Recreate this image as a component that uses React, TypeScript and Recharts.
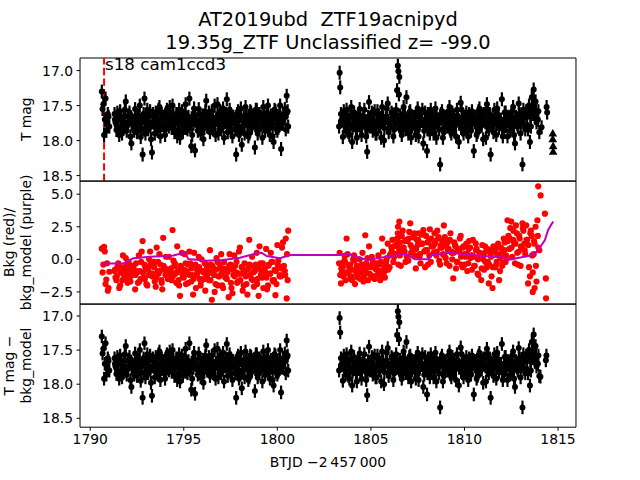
import { ScatterChart, Scatter, XAxis, YAxis, ErrorBar, ReferenceLine, ReferenceArea } from "recharts"

// ---- light curve, first orbit (BTJD - 2457000), cadence a ----
const t1a = [
  1790.62, 1790.70, 1790.78, 1790.86, 1790.94, 1791.02,
  1791.3, 1791.4, 1791.5, 1791.6, 1791.7, 1791.8, 1791.9, 1792.0, 1792.1, 1792.2,
  1792.3, 1792.4, 1792.5, 1792.6, 1792.7, 1792.8, 1792.9, 1793.0, 1793.1, 1793.2,
  1793.3, 1793.4, 1793.5, 1793.6, 1793.7, 1793.8, 1793.9, 1794.0, 1794.1, 1794.2,
  1794.3, 1794.4, 1794.5, 1794.6, 1794.7, 1794.8, 1794.9, 1795.0, 1795.1, 1795.2,
  1795.3, 1795.4, 1795.5, 1795.6, 1795.7, 1795.8, 1795.9, 1796.0, 1796.1, 1796.2,
  1796.3, 1796.4, 1796.5, 1796.6, 1796.7, 1796.8, 1796.9, 1797.0, 1797.1, 1797.2,
  1797.3, 1797.4, 1797.5, 1797.6, 1797.7, 1797.8, 1797.9, 1798.0, 1798.1, 1798.2,
  1798.3, 1798.4, 1798.5, 1798.6, 1798.7, 1798.8, 1798.9, 1799.0, 1799.1, 1799.2,
  1799.3, 1799.4, 1799.5, 1799.6, 1799.7, 1799.8, 1799.9, 1800.0, 1800.1, 1800.2,
  1800.3, 1800.4, 1800.5, 1800.58,
]
const mag1a = [
  17.30, 17.48, 17.70, 17.86, 17.62, 17.80,
  17.62, 17.85, 17.70, 17.58, 17.90, 17.66, 17.44, 17.78, 17.60, 18.04,
  17.72, 17.55, 17.88, 17.64, 17.95, 18.20, 17.40, 17.68, 17.84, 17.58,
  18.17, 17.74, 17.60, 17.86, 17.52, 17.78, 17.66, 17.92, 17.56, 17.80,
  17.70, 17.50, 17.88, 17.62, 17.76, 17.96, 17.58, 17.72, 17.48, 17.84,
  17.40, 18.08, 17.66, 18.14, 17.78, 17.55, 17.90, 17.64, 17.82, 17.43,
  17.70, 17.88, 17.58, 17.76, 17.92, 17.48, 17.66, 17.84, 17.54, 17.74,
  17.41, 17.80, 17.62, 17.94, 17.70, 18.20, 17.58, 17.86, 18.06, 17.66,
  17.52, 17.78, 17.90, 17.60, 17.74, 18.10, 17.56, 17.84, 17.68, 17.96,
  17.62, 17.80, 17.50, 17.92, 17.70, 18.02, 17.58, 17.86, 17.64, 18.12,
  17.72, 17.55, 17.36, 17.80,
]
const bkg1a = [
  0.82, -0.40, 0.60, -1.55, -2.40, -0.95,
  -0.9, -1.6, -0.3, -2.0, -0.7, -1.2, 0.1, -1.8, -0.5, -1.1,
  -0.6, -2.3, -1.0, 0.3, -1.5, 1.4, -0.4, -1.9, -0.8, 0.6,
  -1.3, -0.2, -2.1, -0.9, 0.4, -1.6, 1.65, -0.7, -1.2, 0.2,
  -1.0, 2.25, -0.5, -1.8, -0.8, -2.8, 0.5, -1.4, -0.3, -1.1,
  0.6, -1.7, -2.7, -0.6, -1.2, 0.2, -2.0, -0.9, -1.5, -0.4,
  -1.1, 0.7, -3.1, -0.7, -1.9, -0.2, -1.3, 0.4, -2.2, -0.8,
  -1.5, -2.9, -0.4, -2.6, 0.3, -1.0, -1.7, 0.9, -0.6, -2.0,
  -1.2, -2.7, 1.5, -0.5, -1.6, -0.9, 0.5, -2.8, -0.3, -1.4,
  -0.7, 0.8, -2.0, -1.1, -0.2, -1.7, -2.75, 1.1, -0.6, -1.3,
  1.3, -0.9, -3.0, 2.2,
]

// first orbit, cadence b
const t1b = [
  1790.66, 1790.74, 1790.82, 1790.90, 1790.98,
  1791.35, 1791.45, 1791.55, 1791.65, 1791.75, 1791.85, 1791.95, 1792.05, 1792.15, 1792.25,
  1792.35, 1792.45, 1792.55, 1792.65, 1792.75, 1792.85, 1792.95, 1793.05, 1793.15, 1793.25,
  1793.35, 1793.45, 1793.55, 1793.65, 1793.75, 1793.85, 1793.95, 1794.05, 1794.15, 1794.25,
  1794.35, 1794.45, 1794.55, 1794.65, 1794.75, 1794.85, 1794.95, 1795.05, 1795.15, 1795.25,
  1795.35, 1795.45, 1795.55, 1795.65, 1795.75, 1795.85, 1795.95, 1796.05, 1796.15, 1796.25,
  1796.35, 1796.45, 1796.55, 1796.65, 1796.75, 1796.85, 1796.95, 1797.05, 1797.15, 1797.25,
  1797.35, 1797.45, 1797.55, 1797.65, 1797.75, 1797.85, 1797.95, 1798.05, 1798.15, 1798.25,
  1798.35, 1798.45, 1798.55, 1798.65, 1798.75, 1798.85, 1798.95, 1799.05, 1799.15, 1799.25,
  1799.35, 1799.45, 1799.55, 1799.65, 1799.75, 1799.85, 1799.95, 1800.05, 1800.15, 1800.25,
  1800.35, 1800.45, 1800.55,
]
const mag1b = [
  17.55, 17.92, 17.40, 17.75, 17.66,
  17.74, 17.60, 17.92, 17.68, 17.80, 17.56, 17.86, 17.64, 17.94, 17.70,
  17.86, 17.66, 17.78, 17.50, 17.82, 17.62, 17.90, 17.56, 17.74, 17.98,
  17.62, 17.90, 17.70, 17.56, 17.94, 17.66, 17.84, 17.60, 17.76, 17.52,
  17.82, 17.64, 17.72, 17.94, 17.56, 17.70, 17.88, 17.60, 17.78, 17.66,
  17.76, 17.92, 17.54, 17.70, 17.86, 17.62, 17.74, 17.98, 17.58, 17.80,
  17.60, 17.74, 17.84, 17.50, 17.68, 17.90, 17.58, 17.72, 17.96, 17.62,
  17.88, 17.56, 17.76, 17.66, 17.84, 17.62, 17.92, 17.54, 17.72, 17.90,
  17.64, 17.94, 17.58, 17.80, 17.68, 17.56, 17.90, 17.62, 17.76, 17.52,
  17.86, 17.60, 17.74, 17.64, 17.94, 17.56, 17.70, 17.82, 17.50, 17.76,
  17.62, 17.84, 17.58,
]
const bkg1b = [
  -1.0, 0.95, -1.9, -0.3, -2.2,
  -1.4, -0.6, -2.2, -1.0, 0.3, -1.5, -0.8, -0.2, -1.7, -0.5,
  -1.2, -0.3, -1.8, -0.9, 0.6, -1.4, -0.6, -2.0, 0.0, -1.1,
  -0.5, -1.7, 0.9, -1.1, -0.4, -2.3, -0.8, 0.2, -1.5, -0.9,
  -1.6, -0.1, -1.1, 1.0, -2.0, -0.6, -1.3, 0.4, -0.9, -1.8,
  -0.3, -1.2, 0.5, -2.2, -0.8, -1.5, 0.0, -1.0, -2.4, -0.6,
  -1.6, -0.4, -1.0, -2.5, 0.1, -1.3, -0.7, -2.0, -0.2, -1.4,
  -0.9, 0.4, -2.2, -1.2, -0.5, -1.8, 0.6, -1.1, -2.4, -0.3,
  -1.9, -0.7, -1.2, 0.2, -2.1, -0.4, -1.5, 1.0, -0.9, -2.2,
  -1.0, -2.3, -0.4, 0.5, -1.6, -0.8, -1.9, -0.1, -1.2, 0.9,
  -0.5, 1.6, -1.6,
]

// first orbit, cadence c
const t1c = [
  1791.32, 1791.42, 1791.52, 1791.62, 1791.72, 1791.82, 1791.92, 1792.02, 1792.12, 1792.22,
  1792.32, 1792.42, 1792.52, 1792.62, 1792.72, 1792.82, 1792.92, 1793.02, 1793.12, 1793.22,
  1793.32, 1793.42, 1793.52, 1793.62, 1793.72, 1793.82, 1793.92, 1794.02, 1794.12, 1794.22,
  1794.32, 1794.42, 1794.52, 1794.62, 1794.72, 1794.82, 1794.92, 1795.02, 1795.12, 1795.22,
  1795.32, 1795.42, 1795.52, 1795.62, 1795.72, 1795.82, 1795.92, 1796.02, 1796.12, 1796.22,
  1796.32, 1796.42, 1796.52, 1796.62, 1796.72, 1796.82, 1796.92, 1797.02, 1797.12, 1797.22,
  1797.32, 1797.42, 1797.52, 1797.62, 1797.72, 1797.82, 1797.92, 1798.02, 1798.12, 1798.22,
  1798.32, 1798.42, 1798.52, 1798.62, 1798.72, 1798.82, 1798.92, 1799.02, 1799.12, 1799.22,
  1799.32, 1799.42, 1799.52, 1799.62, 1799.72, 1799.82, 1799.92, 1800.02, 1800.12, 1800.22,
  1800.32, 1800.42, 1800.52,
]
const mag1c = [
  17.70, 17.78, 17.64, 17.82, 17.72, 17.66, 17.80, 17.74, 17.68, 17.76,
  17.82, 17.70, 17.64, 17.78, 17.74, 17.68, 17.84, 17.72, 17.66, 17.80,
  17.74, 17.66, 17.82, 17.70, 17.78, 17.62, 17.76, 17.84, 17.70, 17.68,
  17.66, 17.80, 17.74, 17.70, 17.84, 17.64, 17.78, 17.72, 17.82, 17.68,
  17.80, 17.68, 17.76, 17.64, 17.72, 17.84, 17.70, 17.78, 17.66, 17.74,
  17.72, 17.82, 17.66, 17.78, 17.70, 17.76, 17.62, 17.80, 17.74, 17.68,
  17.78, 17.70, 17.84, 17.66, 17.74, 17.80, 17.72, 17.64, 17.82, 17.70,
  17.68, 17.76, 17.72, 17.82, 17.64, 17.78, 17.70, 17.84, 17.66, 17.74,
  17.74, 17.66, 17.80, 17.70, 17.76, 17.62, 17.82, 17.72, 17.78, 17.68,
  17.70, 17.64, 17.60,
]
const bkg1c = [
  -0.8, -1.3, -0.4, -1.0, -1.6, -0.6, -1.1, -0.3, -1.4, -0.9,
  -0.5, -1.2, -0.9, -1.7, -0.2, -1.0, -1.5, -0.7, -1.2, -0.4,
  -1.1, -0.6, -1.4, -0.2, -0.9, -1.8, -0.5, -1.2, -0.8, -1.5,
  -0.7, -1.3, -0.3, -1.0, -1.6, -0.5, -1.1, -0.8, -1.9, -0.4,
  -1.2, -0.7, -1.5, -0.4, -1.0, -0.6, -1.7, -0.9, -0.3, -1.3,
  -0.9, -1.6, -0.5, -1.2, -0.8, -2.0, -0.4, -1.1, -0.7, -1.4,
  -1.0, -0.5, -1.8, -0.8, -1.3, -0.2, -1.1, -1.6, -0.6, -0.9,
  -1.3, -0.8, -0.4, -1.5, -1.0, -0.6, -1.9, -0.7, -1.2, -0.3,
  -0.8, -1.4, -0.5, -1.1, -0.2, -1.6, -0.9, -0.4, -1.3, -0.7,
  -0.6, -1.2, 0.4,
]

// ---- second orbit, cadence a ----
const t2a = [
  1803.3, 1803.33, 1803.36, 1803.4, 1803.5, 1803.6, 1803.7, 1803.8, 1803.9, 1804.0, 1804.1, 1804.2,
  1804.3, 1804.4, 1804.5, 1804.6, 1804.7, 1804.8, 1804.9, 1805.0, 1805.1, 1805.2,
  1805.3, 1805.4, 1805.5, 1805.6, 1805.7, 1805.8, 1805.9, 1806.0, 1806.1, 1806.2,
  1806.3, 1806.4, 1806.44, 1806.47, 1806.5, 1806.52, 1806.55, 1806.6, 1806.7, 1806.8, 1806.9, 1807.0, 1807.1, 1807.2,
  1807.3, 1807.4, 1807.5, 1807.6, 1807.7, 1807.8, 1807.9, 1808.0, 1808.1, 1808.2,
  1808.3, 1808.4, 1808.5, 1808.6, 1808.7, 1808.8, 1808.9, 1809.0, 1809.1, 1809.2,
  1809.3, 1809.4, 1809.5, 1809.6, 1809.7, 1809.8, 1809.9, 1810.0, 1810.1, 1810.2,
  1810.3, 1810.4, 1810.5, 1810.6, 1810.7, 1810.8, 1810.9, 1811.0, 1811.1, 1811.2,
  1811.3, 1811.4, 1811.5, 1811.6, 1811.7, 1811.8, 1811.9, 1812.0, 1812.1, 1812.2,
  1812.3, 1812.4, 1812.5, 1812.6, 1812.7, 1812.8, 1812.9, 1813.0, 1813.1, 1813.2,
  1813.3, 1813.4, 1813.5, 1813.6, 1813.65, 1813.7, 1813.75, 1813.8, 1813.9, 1814.0,
]
const mag2a = [
  17.80, 17.03, 17.24, 17.62, 17.95, 17.70, 17.56, 17.88, 17.66, 18.02, 17.60, 17.84,
  17.74, 17.55, 17.92, 17.68, 17.80, 18.16, 17.45, 17.70, 17.86, 17.58,
  17.90, 17.64, 17.76, 17.52, 18.00, 17.68, 17.47, 17.82, 17.60, 17.94,
  17.70, 17.28, 16.93, 17.01, 17.34, 17.09, 17.80, 17.86, 17.62, 17.74, 17.38, 17.90, 17.58, 17.80,
  17.66, 17.92, 17.54, 17.78, 17.70, 18.04, 17.60, 18.15, 17.84, 17.56,
  17.76, 17.62, 17.96, 17.70, 18.34, 17.58, 17.88, 17.66, 17.80, 17.52,
  17.90, 17.64, 17.74, 17.56, 18.02, 17.46, 17.84, 17.68, 17.60, 17.94,
  17.72, 17.58, 18.15, 17.66, 17.88, 17.54, 17.78, 17.98, 17.62, 17.48,
  17.84, 18.20, 17.70, 17.56, 17.92, 17.64, 17.76, 17.41, 17.86, 17.60,
  17.94, 17.68, 17.80, 17.52, 18.04, 17.72, 17.47, 17.90, 18.34, 17.62,
  17.58, 17.84, 18.02, 17.38, 17.56, 17.27, 17.62, 17.44, 17.70, 17.88,
]
const bkg2a = [
  -0.3, 0.5, -1.2, -1.85, -0.6, 0.2, 1.6, -1.1, -0.4, -1.6, 0.3, -0.9,
  -1.4, 0.0, -0.7, -1.7, 1.85, -0.5, 1.0, -1.2, -0.2, -1.5,
  -0.8, 0.3, -1.6, 1.6, -1.0, -0.3, 1.2, -0.6, 0.9, -0.2,
  0.4, 1.6, 2.0, -0.4, 0.8, 2.89, 1.3, -0.5, 2.2, 0.6, 1.5, -0.1, 2.76, 0.9,
  1.7, -0.7, 1.1, 0.2, 1.9, 2.25, -0.6, 0.7, 1.4, -0.2,
  1.0, 2.0, 0.3, 1.6, -0.4, 0.9, 2.6, 0.1, 1.3, -0.5,
  0.6, -1.46, 1.1, -0.2, 0.8, 1.8, -0.6, 0.4, 1.2, -0.3,
  0.9, -0.8, 0.2, 1.22, -1.1, 0.5, -1.59, 0.0, 1.0, -0.6,
  -1.85, 0.3, -2.2, 0.8, -0.4, 1.2, -0.9, 0.5, 1.6, -0.2,
  3.0, 0.8, 2.9, 1.5, -0.3, 2.0, 0.6, -0.5, 2.76, 1.2,
  2.6, -1.85, -1.3, 1.8, -2.5, 0.4, -2.2, 2.5, 3.0, 0.7,
]

// second orbit, cadence b
const t2b = [
  1803.45, 1803.55, 1803.65, 1803.75, 1803.85, 1803.95, 1804.05, 1804.15, 1804.25,
  1804.35, 1804.45, 1804.55, 1804.65, 1804.75, 1804.85, 1804.95, 1805.05, 1805.15, 1805.25,
  1805.35, 1805.45, 1805.55, 1805.65, 1805.75, 1805.85, 1805.95, 1806.05, 1806.15, 1806.25,
  1806.35, 1806.45, 1806.55, 1806.65, 1806.75, 1806.85, 1806.95, 1807.05, 1807.15, 1807.25,
  1807.35, 1807.45, 1807.55, 1807.65, 1807.75, 1807.85, 1807.95, 1808.05, 1808.15, 1808.25,
  1808.35, 1808.45, 1808.55, 1808.65, 1808.75, 1808.85, 1808.95, 1809.05, 1809.15, 1809.25,
  1809.35, 1809.45, 1809.55, 1809.65, 1809.75, 1809.85, 1809.95, 1810.05, 1810.15, 1810.25,
  1810.35, 1810.45, 1810.55, 1810.65, 1810.75, 1810.85, 1810.95, 1811.05, 1811.15, 1811.25,
  1811.35, 1811.45, 1811.55, 1811.65, 1811.75, 1811.85, 1811.95, 1812.05, 1812.15, 1812.25,
  1812.35, 1812.45, 1812.55, 1812.65, 1812.75, 1812.85, 1812.95, 1813.05, 1813.15, 1813.25,
  1813.35, 1813.45, 1813.55, 1813.65, 1813.75, 1813.85, 1813.95,
]
const mag2b = [
  17.70, 17.58, 17.86, 17.64, 17.92, 17.52, 17.78, 17.68, 17.96,
  17.62, 17.84, 17.70, 17.56, 17.94, 17.66, 17.80, 17.60, 17.74, 17.90,
  17.58, 17.80, 17.96, 17.66, 17.74, 17.54, 17.88, 17.70, 17.62, 17.84,
  17.56, 17.76, 17.64, 17.92, 17.52, 17.84, 17.70, 17.60, 17.96, 17.68,
  17.80, 17.60, 17.94, 17.68, 17.56, 17.86, 17.74, 17.62, 17.90, 17.70,
  17.90, 17.54, 17.72, 17.84, 17.62, 17.96, 17.68, 17.76, 17.58, 17.86,
  17.60, 17.82, 17.94, 17.66, 17.74, 17.56, 17.90, 17.70, 17.84, 17.62,
  17.86, 17.66, 17.74, 17.92, 17.58, 17.80, 17.64, 17.70, 17.96, 17.56,
  17.62, 17.76, 17.88, 17.66, 17.54, 17.82, 17.70, 17.94, 17.60, 17.78,
  17.70, 17.86, 17.58, 17.92, 17.66, 17.80, 17.62, 17.74, 17.56, 17.84,
  17.66, 17.50, 17.80, 17.62, 17.46, 17.74, 17.58,
]
const bkg2b = [
  -1.0, -0.2, -1.6, 0.4, -0.8, -1.3, 0.0, -1.9, -0.5,
  -0.9, -1.5, 0.5, -1.1, -0.3, -1.6, -0.6, 0.2, -1.3, -0.7,
  -1.2, -0.4, -0.9, 0.6, -1.4, 0.1, -0.7, 0.4, 1.5, 0.2,
  1.1, 2.5, 0.3, 1.8, 0.9, -0.2, 1.4, 2.1, 0.5, 1.7,
  0.3, 1.5, 2.0, -0.3, 1.2, 0.6, 1.8, -0.4, 2.3, 1.0,
  0.5, 1.4, 2.2, -0.1, 1.1, 0.4, 1.7, -0.3, 0.8, 2.0,
  0.0, 1.3, -0.7, 0.7, 1.6, -0.4, 1.0, 0.2, -0.9, 1.4,
  0.3, 1.5, -0.5, 0.8, -1.2, 0.4, 1.1, -0.8, 0.6, -0.2,
  0.7, -1.3, 1.0, -0.6, 0.4, -1.6, 0.9, -0.3, 1.3, 0.1,
  1.8, 2.4, 0.2, 1.3, 2.6, -0.4, 1.6, 0.9, 2.2, 0.4,
  1.5, -0.6, 2.2, -1.0, 1.2, -1.7, 0.9,
]

// second orbit, cadence c
const t2c = [
  1803.42, 1803.52, 1803.62, 1803.72, 1803.82, 1803.92, 1804.02, 1804.12, 1804.22, 1804.32,
  1804.42, 1804.52, 1804.62, 1804.72, 1804.82, 1804.92, 1805.02, 1805.12, 1805.22, 1805.32,
  1805.42, 1805.52, 1805.62, 1805.72, 1805.82, 1805.92, 1806.02, 1806.12, 1806.22, 1806.32,
  1806.42, 1806.52, 1806.62, 1806.72, 1806.82, 1806.92, 1807.02, 1807.12, 1807.22, 1807.32,
  1807.42, 1807.52, 1807.62, 1807.72, 1807.82, 1807.92, 1808.02, 1808.12, 1808.22, 1808.32,
  1808.42, 1808.52, 1808.62, 1808.72, 1808.82, 1808.92, 1809.02, 1809.12, 1809.22, 1809.32,
  1809.42, 1809.52, 1809.62, 1809.72, 1809.82, 1809.92, 1810.02, 1810.12, 1810.22, 1810.32,
  1810.42, 1810.52, 1810.62, 1810.72, 1810.82, 1810.92, 1811.02, 1811.12, 1811.22, 1811.32,
  1811.42, 1811.52, 1811.62, 1811.72, 1811.82, 1811.92, 1812.02, 1812.12, 1812.22, 1812.32,
  1812.42, 1812.52, 1812.62, 1812.72, 1812.82, 1812.92, 1813.02, 1813.12, 1813.22, 1813.32,
  1813.42, 1813.52, 1813.62, 1813.72, 1813.82, 1813.92,
]
const mag2c = [
  17.72, 17.66, 17.80, 17.70, 17.76, 17.64, 17.82, 17.74, 17.68, 17.78,
  17.70, 17.80, 17.66, 17.74, 17.84, 17.68, 17.76, 17.62, 17.78, 17.72,
  17.78, 17.68, 17.74, 17.82, 17.66, 17.72, 17.80, 17.70, 17.64, 17.76,
  17.66, 17.74, 17.70, 17.80, 17.64, 17.78, 17.72, 17.84, 17.68, 17.76,
  17.74, 17.82, 17.66, 17.72, 17.78, 17.70, 17.84, 17.64, 17.76, 17.70,
  17.80, 17.68, 17.76, 17.64, 17.72, 17.82, 17.70, 17.78, 17.66, 17.74,
  17.70, 17.78, 17.64, 17.76, 17.82, 17.68, 17.74, 17.80, 17.66, 17.72,
  17.76, 17.66, 17.72, 17.84, 17.70, 17.78, 17.62, 17.74, 17.80, 17.68,
  17.72, 17.80, 17.68, 17.76, 17.64, 17.74, 17.82, 17.70, 17.78, 17.66,
  17.74, 17.66, 17.80, 17.70, 17.76, 17.62, 17.72, 17.68, 17.78, 17.60,
  17.56, 17.66, 17.52, 17.62, 17.58, 17.70,
]
const bkg2c = [
  -0.7, -1.3, -0.2, -1.0, -0.5, -1.5, -0.8, -0.1, -1.2, -0.6,
  -1.0, -0.4, -1.3, -0.8, 0.1, -1.1, -0.5, -1.4, -0.7, -0.3,
  -0.9, -0.2, -1.2, -0.6, -0.1, -0.8, 0.3, 0.6, 1.0, 0.4,
  1.2, 0.5, 1.8, 0.9, 1.4, 0.2, 1.6, 1.1, 0.6, 2.0,
  0.8, 1.5, 0.4, 1.2, 1.9, 0.7, 1.3, 0.3, 1.6, 1.0,
  1.2, 0.6, 1.7, 0.9, 1.4, 0.3, 1.1, 0.7, 1.5, 0.5,
  0.5, 1.0, -0.2, 0.6, 0.2, 0.9, -0.4, 0.4, 0.8, 0.1,
  0.3, -0.5, 0.7, 0.0, 0.5, -0.7, 0.4, -0.2, 0.8, -0.4,
  0.2, -0.6, 0.6, -0.2, 0.9, 0.1, -0.5, 0.7, 0.3, 1.4,
  1.6, 0.9, 2.2, 1.2, 0.5, 1.8, 1.0, 2.4, 0.7, 1.5,
  1.1, 2.0, 0.3, 1.4, -0.5, 1.8,
]

// last few points after the main block
const tailT = [1814.12, 1814.39, 1814.42]
const tailMag = [17.81, 17.52, 17.60]
const tailCorrT = [1814.06, 1814.35, 1814.38]
const tailCorrMag = [17.89, 17.65, 17.58]
const limitT = [1814.72, 1814.72, 1814.74, 1814.74]
const limitMag = [17.90, 17.98, 18.08, 18.16]
const bkgTailT = [1813.94, 1814.07, 1814.3, 1814.35, 1814.36]
const bkgTail = [5.6, 4.9, 3.5, -1.46, -2.99]

// smoothed background model
const modelT = [
  1790.61, 1791.77, 1792.3, 1793.19, 1794.44, 1795.06, 1795.24, 1796.22, 1797.11, 1798.0,
  1798.89, 1799.16, 1799.43, 1800.14, 1800.67, 1803.35, 1803.7, 1804.77, 1805.84, 1806.9,
  1807.35, 1808.06, 1808.24, 1809.22, 1811.0, 1812.07, 1812.34, 1812.78, 1813.67, 1813.94,
  1814.12, 1814.3, 1814.47, 1814.74,
]
const modelV = [
  -0.31, -0.31, 0.08, 0.2, 0.3, 0.51, 0.03, -0.1, -0.05, 0.13,
  0.46, 0.51, 0.25, 0.08, 0.33, 0.33, 0.46, -0.05, 0.2, 0.4,
  0.0, 0.0, 0.33, 0.5, 0.25, 0.15, -0.05, 0.08, 0.33, 0.71,
  1.1, 1.48, 2.25, 2.9,
]

const magErr = 0.1
const sectorStart = 1790.74

const X_DOMAIN: [number, number] = [1789.455, 1815.96]
const X_TICKS = [1790, 1795, 1800, 1805, 1810, 1815]
const MAG_TICKS = [17.0, 17.5, 18.0, 18.5]
const BKG_TICKS = [-2.5, 0, 2.5, 5]
const TOP_DOMAIN: [number, number] = [16.82, 18.58]
const MID_DOMAIN: [number, number] = [-3.44, 6.01]
const BOT_DOMAIN: [number, number] = [16.824, 18.63]

const pts = (ts: number[], ys: number[], err?: number) => ts.map((t, i) => ({ t, y: ys[i], err }))

const mainMag = [
  ...pts(t1a, mag1a, magErr), ...pts(t1b, mag1b, magErr), ...pts(t1c, mag1c, magErr),
  ...pts(t2a, mag2a, magErr), ...pts(t2b, mag2b, magErr), ...pts(t2c, mag2c, magErr),
]
const magPts = [...mainMag, ...pts(tailT, tailMag, magErr)]
// the detrended curve looks the same as the raw one at this scale
const corrPts = [...mainMag, ...pts(tailCorrT, tailCorrMag, magErr)]
const limitPts = pts(limitT, limitMag)
const bkgPts = [
  ...pts(t1a, bkg1a), ...pts(t1b, bkg1b), ...pts(t1c, bkg1c),
  ...pts(t2a, bkg2a), ...pts(t2b, bkg2b), ...pts(t2c, bkg2c),
  ...pts(bkgTailT, bkgTail),
]
const modelPts = pts(modelT, modelV)

const FONT = "DejaVu Sans, sans-serif"
const tickStyle = { fill: "#000", fontSize: 13.9, fontFamily: FONT }
const fmt1 = (v: number) => v.toFixed(1).replace("-", "\u2212")

const dot = (r: number, color: string) => (p: any) => <circle cx={p.cx} cy={p.cy} r={r} fill={color} />
const tri = (p: any) => (
  <path d={`M${p.cx},${p.cy - 4.6} L${p.cx + 4.3},${p.cy + 3} L${p.cx - 4.3},${p.cy + 3} Z`} fill="#000" />
)
const nothing = () => <g />

const W = 640
const PANEL_H = 123.2
const PAD = 10
const margin = { top: PAD, right: 64, bottom: PAD, left: 0 }

function yAxisProps(domain: [number, number], ticks: number[], reversed: boolean) {
  return {
    type: "number" as const,
    dataKey: "y",
    domain,
    reversed,
    allowDataOverflow: true,
    ticks,
    interval: 0 as const,
    tickFormatter: fmt1,
    width: 80,
    axisLine: false,
    tickSize: 3.5,
    tickMargin: 3.5,
    tick: tickStyle,
    tickLine: { stroke: "#000", strokeWidth: 1 },
  }
}

export default function App() {
  return (
    <div style={{ position: "absolute", left: 0, top: 0, width: 640, height: 480, background: "#fff", fontFamily: FONT }}>
      <div style={{ position: "absolute", left: 0, top: 57.6 - PAD }}>
        <ScatterChart width={W} height={PANEL_H + 2 * PAD} margin={margin}>
          <XAxis type="number" dataKey="t" domain={X_DOMAIN} allowDataOverflow hide />
          <YAxis {...yAxisProps(TOP_DOMAIN, MAG_TICKS, true)} />
          <ReferenceArea x1={X_DOMAIN[0]} x2={X_DOMAIN[1]} y1={TOP_DOMAIN[0]} y2={TOP_DOMAIN[1]} fill="none" stroke="#000" strokeWidth={1} />
          <ReferenceLine x={sectorStart} stroke="#ff0000" strokeWidth={2} strokeDasharray="7.4 3.2" />
          <Scatter data={magPts} shape={dot(3, "#000")} isAnimationActive={false}>
            <ErrorBar dataKey="err" direction="y" width={0} stroke="#000" strokeWidth={2.2} isAnimationActive={false} />
          </Scatter>
          <Scatter data={limitPts} shape={tri} isAnimationActive={false} />
        </ScatterChart>
      </div>

      <div style={{ position: "absolute", left: 0, top: 180.8 - PAD }}>
        <ScatterChart width={W} height={PANEL_H + 2 * PAD} margin={margin}>
          <XAxis type="number" dataKey="t" domain={X_DOMAIN} allowDataOverflow hide />
          <YAxis {...yAxisProps(MID_DOMAIN, BKG_TICKS, false)} />
          <ReferenceArea x1={X_DOMAIN[0]} x2={X_DOMAIN[1]} y1={MID_DOMAIN[0]} y2={MID_DOMAIN[1]} fill="none" stroke="#000" strokeWidth={1} />
          <Scatter data={bkgPts} shape={dot(3.1, "#ff0000")} isAnimationActive={false} />
          <Scatter
            data={modelPts}
            line={{ stroke: "#bf00bf", strokeWidth: 2 }}
            lineType="joint"
            shape={nothing}
            isAnimationActive={false}
          />
        </ScatterChart>
      </div>

      <div style={{ position: "absolute", left: 0, top: 304 - PAD }}>
        <ScatterChart width={W} height={PANEL_H + PAD + 53} margin={{ ...margin, bottom: 0 }}>
          <XAxis
            type="number"
            dataKey="t"
            domain={X_DOMAIN}
            allowDataOverflow
            ticks={X_TICKS}
            interval={0}
            height={53}
            axisLine={false}
            tickSize={3.5}
            tickMargin={3.5}
            tick={tickStyle}
            tickLine={{ stroke: "#000", strokeWidth: 1 }}
          />
          <YAxis {...yAxisProps(BOT_DOMAIN, MAG_TICKS, true)} />
          <ReferenceArea x1={X_DOMAIN[0]} x2={X_DOMAIN[1]} y1={BOT_DOMAIN[0]} y2={BOT_DOMAIN[1]} fill="none" stroke="#000" strokeWidth={1} />
          <Scatter data={corrPts} shape={dot(3, "#000")} isAnimationActive={false}>
            <ErrorBar dataKey="err" direction="y" width={0} stroke="#000" strokeWidth={2.2} isAnimationActive={false} />
          </Scatter>
        </ScatterChart>
      </div>

      <svg width={640} height={480} style={{ position: "absolute", left: 0, top: 0, pointerEvents: "none" }} fontFamily={FONT}>
        <text x={328} y={26} textAnchor="middle" fontSize={19.4}>AT2019ubd{"\u00a0\u00a0"}ZTF19acnipyd</text>
        <text x={328} y={49.3} textAnchor="middle" fontSize={19.4}>19.35g_ZTF Unclassified z= -99.0</text>
        <text x={105} y={70} fontSize={16.7}>s18 cam1ccd3</text>
        <text transform="translate(31,119.2) rotate(-90)" textAnchor="middle" fontSize={13.9}>T mag</text>
        <g transform="translate(0,242.4) rotate(-90)" fontSize={13.9}>
          <text x={0} y={13.5} textAnchor="middle">Bkg (red)/</text>
          <text x={0} y={30.5} textAnchor="middle">bkg_model (purple)</text>
        </g>
        <g transform="translate(0,365.6) rotate(-90)" fontSize={13.9}>
          <text x={0} y={13.5} textAnchor="middle">T mag {"\u2212"}</text>
          <text x={0} y={30.5} textAnchor="middle">bkg_model</text>
        </g>
        <text x={328} y={467} textAnchor="middle" fontSize={13.9}>BTJD {"\u2212"}2{"\u2009"}457{"\u2009"}000</text>
      </svg>
    </div>
  )
}
